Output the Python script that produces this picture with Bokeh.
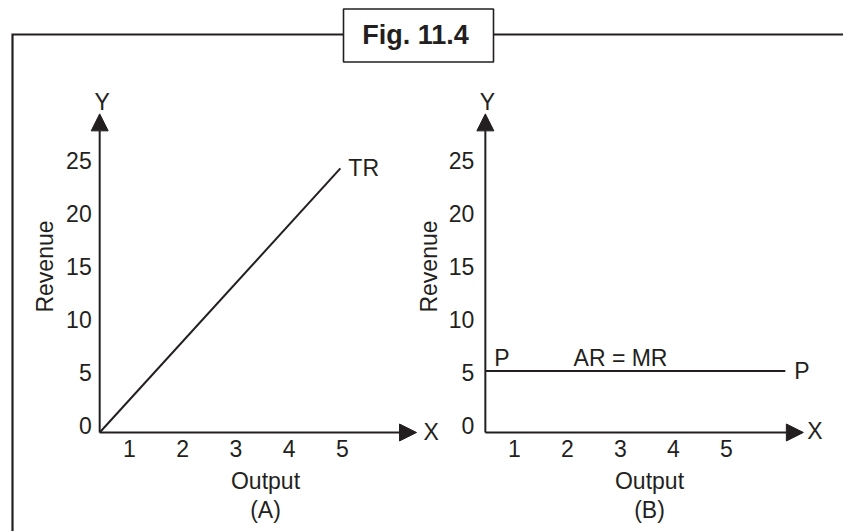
import math
from bokeh.plotting import figure
from bokeh.models import Range1d, LinearAxis, FixedTicker, Label, Arrow, NormalHead
from bokeh.embed import file_html
from bokeh.resources import INLINE

# ---------------- data ----------------
revenue_ticks = [0, 5, 10, 15, 20, 25]
output_ticks = [1, 2, 3, 4, 5]

# Panel (A): total revenue curve TR
tr_output = [0.44, 4.96]
tr_revenue = [-0.66, 24.25]

# Panel (B): price line AR = MR
armr_output = [0.45, 6.11]
armr_revenue = [5.14, 5.14]

# axis origins and arrow tips (in each panel's data units)
origin_a = [0.44, -0.66]
origin_b = [0.45, -0.66]
tip_output_a = 6.39
tip_output_b = 6.45
tip_revenue = 29.4
armr_label_output = 3.0

# ---------------- layout / style ----------------
INK = "#231f20"
FONT = "Liberation Sans"
FS = "23px"
W, H = 843, 531
LEFT, RIGHT, TOP, BOTTOM = 0, W, 0, H  # canvas pixels

# pixel position of value 0 and pixels per unit, for each scale
A_X0, A_DX = 75.75, 53.25
B_X0, B_DX = 461.0, 53.0
Y0, DY = 425.0, 10.6


def x_range_for(x0, dx):
    return Range1d(start=(LEFT - x0) / dx, end=(RIGHT - x0) / dx)


p = figure(width=W, height=H,
           x_range=Range1d(LEFT, RIGHT), y_range=Range1d(BOTTOM, TOP),
           x_axis_type=None, y_axis_type=None,
           toolbar_location=None, output_backend="svg",
           min_border=0, outline_line_color=None)
p.background_fill_color = "white"
p.border_fill_color = "white"
p.extra_x_ranges = {"a": x_range_for(A_X0, A_DX), "b": x_range_for(B_X0, B_DX)}
p.extra_y_ranges = {"rev": Range1d(start=(Y0 - BOTTOM) / DY, end=(Y0 - TOP) / DY)}


def style_axis(ax, standoff):
    ax.axis_line_color = None
    ax.major_tick_line_color = None
    ax.minor_tick_line_color = None
    ax.major_tick_in = 0
    ax.major_tick_out = 0
    ax.minor_tick_in = 0
    ax.minor_tick_out = 0
    ax.major_label_standoff = standoff
    ax.major_label_text_font = FONT
    ax.major_label_text_font_size = FS
    ax.major_label_text_color = INK


for name, origin, ystand in [("a", origin_a, 8), ("b", origin_b, 11)]:
    yax = LinearAxis(x_range_name=name, y_range_name="rev", fixed_location=origin[0],
                     ticker=FixedTicker(ticks=revenue_ticks))
    style_axis(yax, ystand)
    p.add_layout(yax, "left")
    xax = LinearAxis(x_range_name=name, y_range_name="rev", fixed_location=origin[1],
                     ticker=FixedTicker(ticks=output_ticks))
    style_axis(xax, 8)
    p.add_layout(xax, "below")

# axis lines with arrow heads
for name, origin, tip_x in [("a", origin_a, tip_output_a), ("b", origin_b, tip_output_b)]:
    p.add_layout(Arrow(end=NormalHead(size=17, fill_color=INK, line_color=INK, line_width=1),
                       x_start=origin[0], y_start=origin[1], x_end=origin[0], y_end=tip_revenue,
                       x_range_name=name, y_range_name="rev", line_color=INK, line_width=2))
    p.add_layout(Arrow(end=NormalHead(size=17, fill_color=INK, line_color=INK, line_width=1),
                       x_start=origin[0], y_start=origin[1], x_end=tip_x, y_end=origin[1],
                       x_range_name=name, y_range_name="rev", line_color=INK, line_width=2))

# data lines
p.line(tr_output, tr_revenue, x_range_name="a", y_range_name="rev", line_color=INK, line_width=2)
p.line(armr_output, armr_revenue, x_range_name="b", y_range_name="rev", line_color=INK, line_width=2)

# outer frame and title box (canvas pixels)
p.line([12, 12, 343], [BOTTOM, 34, 34], line_color=INK, line_width=2.2, line_join="miter")
p.line([493, RIGHT], [34, 34], line_color=INK, line_width=2.2)
p.quad(left=343, right=493, top=8.5, bottom=61.5, fill_color="white", line_color=INK, line_width=1.6)


def lab(text, x, y, xr="default", yr="default", align="left",
        dx=0, dy=0, angle=0, size=FS, style="normal"):
    p.add_layout(Label(x=x, y=y, x_range_name=xr, y_range_name=yr, text=text,
                       text_align=align, text_baseline="middle", x_offset=dx, y_offset=dy,
                       angle=angle, text_font=FONT, text_font_size=size,
                       text_font_style=style, text_color=INK))


lab("Fig. 11.4", 415, 34, align="center", size="27px", style="bold")

# panel texts
lab("Revenue", 44, 266, align="center", angle=math.pi / 2)
lab("Revenue", 428.5, 266, align="center", angle=math.pi / 2)
lab("Output", 265, 480, align="center")
lab("(A)", 265, 509, align="center")
lab("Output", 649, 480, align="center")
lab("(B)", 649, 509, align="center")

lab("Y", origin_a[0], tip_revenue, "a", "rev", align="center", dx=2.5, dy=11.5)
lab("Y", origin_b[0], tip_revenue, "b", "rev", align="center", dx=2, dy=11.5)
lab("X", tip_output_a, origin_a[1], "a", "rev", dx=7, dy=0)
lab("X", tip_output_b, origin_b[1], "b", "rev", dx=4, dy=1)

lab("TR", tr_output[-1], tr_revenue[-1], "a", "rev", dx=8, dy=0)
lab("P", armr_output[0], armr_revenue[0], "b", "rev", dx=9, dy=13)
lab("AR = MR", armr_label_output, armr_revenue[0], "b", "rev", align="center", dy=13)
lab("P", armr_output[-1], armr_revenue[-1], "b", "rev", dx=9, dy=0)

open("out.html", "w").write(file_html(p, INLINE))
